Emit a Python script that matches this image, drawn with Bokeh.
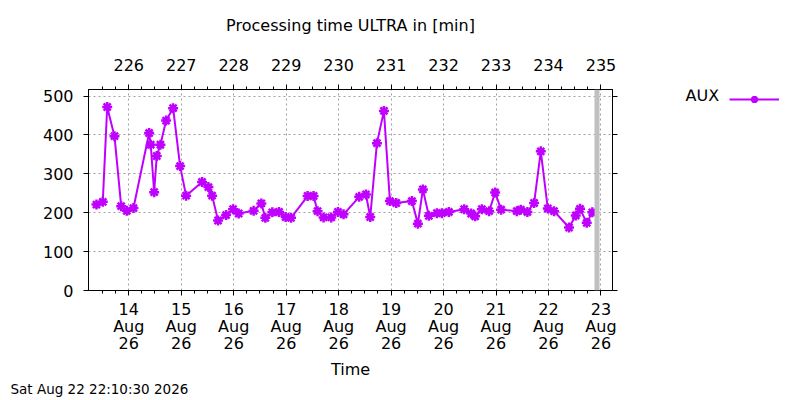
import pandas as pd
from bokeh.plotting import figure
from bokeh.layouts import row
from bokeh.models import (LinearAxis, FixedTicker, Range1d, Span, Legend,
                          LegendItem, Title, Label, CustomJSTickFormatter)
from bokeh.embed import file_html
from bokeh.resources import INLINE

# processing times (minutes) of the ULTRA runs
times = [
    "2026-08-13 09:14", "2026-08-13 12:07", "2026-08-13 14:08", "2026-08-13 17:28",
    "2026-08-13 20:32", "2026-08-13 23:05", "2026-08-14 02:09", "2026-08-14 09:19",
    "2026-08-14 10:03", "2026-08-14 11:37", "2026-08-14 12:48", "2026-08-14 14:29",
    "2026-08-14 17:05", "2026-08-14 20:17", "2026-08-14 23:29", "2026-08-15 02:14",
    "2026-08-15 09:32", "2026-08-15 12:25", "2026-08-15 14:07", "2026-08-15 16:51",
    "2026-08-15 20:31", "2026-08-15 23:43", "2026-08-16 02:16", "2026-08-16 09:07",
    "2026-08-16 12:38", "2026-08-16 14:28", "2026-08-16 17:40", "2026-08-16 20:44",
    "2026-08-16 23:45", "2026-08-17 02:13", "2026-08-17 09:48", "2026-08-17 12:32",
    "2026-08-17 14:22", "2026-08-17 17:07", "2026-08-17 20:38", "2026-08-17 23:41",
    "2026-08-18 02:15", "2026-08-18 09:25", "2026-08-18 12:29", "2026-08-18 14:27",
    "2026-08-18 17:31", "2026-08-18 20:43", "2026-08-18 23:27", "2026-08-19 02:20",
    "2026-08-19 09:30", "2026-08-19 12:15", "2026-08-19 14:32", "2026-08-19 17:17",
    "2026-08-19 20:56", "2026-08-19 23:13", "2026-08-20 02:25", "2026-08-20 09:25",
    "2026-08-20 12:37", "2026-08-20 14:26", "2026-08-20 17:30", "2026-08-20 20:50",
    "2026-08-20 23:35", "2026-08-21 02:19", "2026-08-21 09:29", "2026-08-21 11:19",
    "2026-08-21 14:20", "2026-08-21 17:24", "2026-08-21 20:28", "2026-08-21 23:40",
    "2026-08-22 02:32", "2026-08-22 09:23", "2026-08-22 12:28", "2026-08-22 14:25",
    "2026-08-22 17:29", "2026-08-22 20:02",
]
minutes = [
    221, 228, 472, 397, 217, 205, 212, 405, 375, 253,
    346, 375, 437, 469, 320, 244, 279, 266, 244, 180,
    194, 209, 198, 205, 224, 187, 201, 202, 189, 187,
    243, 243, 204, 188, 188, 202, 196, 241, 247, 189,
    379, 462, 230, 225, 230, 172, 260, 192, 199, 199,
    202, 209, 198, 191, 209, 204, 252, 208, 204, 208,
    202, 225, 358, 211, 204, 162, 193, 210, 174, 201,
]

series_name = "AUX"
now_stamp = "2026-08-22 22:10:30"
now_text = "Sat Aug 22 22:10:30 2026"
x_start = "2026-08-13 05:35"
x_end = "2026-08-23 05:16"
y_max = 517
y_ticks = [0, 100, 200, 300, 400, 500]
day_ticks = ["2026-08-14", "2026-08-15", "2026-08-16", "2026-08-17", "2026-08-18",
             "2026-08-19", "2026-08-20", "2026-08-21", "2026-08-22", "2026-08-23"]
date_labels = ["14\nAug\n26", "15\nAug\n26", "16\nAug\n26", "17\nAug\n26", "18\nAug\n26",
               "19\nAug\n26", "20\nAug\n26", "21\nAug\n26", "22\nAug\n26", "23\nAug\n26"]
doy_labels = ["226", "227", "228", "229", "230", "231", "232", "233", "234", "235"]


def ms(s):
    return pd.Timestamp(s).value // 10**6


day_ms = [ms(d) for d in day_ticks]
six_h = 6 * 3600 * 1000
minor_ms = list(range(day_ms[0] - 2 * six_h, ms(x_end), six_h))

FONT = "DejaVu Sans"
FS = "16px"
PURPLE = "#c000ff"

p = figure(
    x_axis_type="datetime",
    frame_width=524, frame_height=201,
    min_border_left=88, min_border_right=20, min_border_top=89, min_border_bottom=110,
    x_range=Range1d(ms(x_start), ms(x_end)),
    y_range=Range1d(0, y_max),
    output_backend="svg", toolbar_location=None,
)
p.outline_line_color = "black"
p.outline_line_alpha = 1
p.background_fill_color = "white"


def style_axis(ax, standoff=10):
    ax.axis_line_color = "black"
    ax.major_tick_line_color = "black"
    ax.minor_tick_line_color = "black"
    ax.major_tick_in = 0
    ax.major_tick_out = 5
    ax.minor_tick_in = 0
    ax.minor_tick_out = 3
    ax.major_label_text_font = FONT
    ax.major_label_text_font_size = FS
    ax.major_label_text_color = "black"
    ax.major_label_standoff = standoff
    ax.axis_label_text_font = FONT
    ax.axis_label_text_font_size = FS
    ax.axis_label_text_font_style = "normal"
    ax.axis_label_text_color = "black"


# bottom: dates
xb = p.xaxis[0]
xb.ticker = FixedTicker(ticks=day_ms, minor_ticks=minor_ms)
xb.formatter = CustomJSTickFormatter(
    args=dict(pos=day_ms, lab=date_labels),
    code="const i = pos.indexOf(tick); return i < 0 ? '' : lab[i];")
style_axis(xb, 4)
xb.major_label_text_line_height = 0.92
xb.axis_label = "Time"
xb.axis_label_standoff = 4

# top: day of year, with the chart title above it
xt = LinearAxis(ticker=FixedTicker(ticks=day_ms, minor_ticks=minor_ms))
xt.formatter = CustomJSTickFormatter(
    args=dict(pos=day_ms, lab=doy_labels),
    code="const i = pos.indexOf(tick); return i < 0 ? '' : lab[i];")
style_axis(xt, 14)
xt.axis_label = "Processing time ULTRA in [min]"
xt.axis_label_standoff = 21
p.add_layout(xt, "above")

# left / right
yl = p.yaxis[0]
yl.ticker = FixedTicker(ticks=y_ticks, minor_ticks=[])
style_axis(yl, 10)
yr = LinearAxis(ticker=FixedTicker(ticks=y_ticks, minor_ticks=[]))
style_axis(yr, 0)
yr.formatter = CustomJSTickFormatter(code="return '';")
p.add_layout(yr, "right")

p.xgrid.ticker = FixedTicker(ticks=day_ms)
p.ygrid.ticker = FixedTicker(ticks=y_ticks)
for g in (p.xgrid, p.ygrid):
    g.grid_line_color = "#a0a0a0"
    g.grid_line_dash = "2 3"
    g.grid_line_width = 1

# "now" marker
p.add_layout(Span(location=ms(now_stamp), dimension="height",
                  line_color="#c0c0c0", line_width=5))

line_style = dict(line_color=PURPLE, line_width=2)
mark_style = dict(marker="asterisk", size=10, line_color=PURPLE, line_width=2.5)

src = dict(t=pd.to_datetime(times), v=minutes)
p.line("t", "v", source=src, **line_style)
p.scatter("t", "v", source=src, **mark_style)

stamp = Title(text=now_text, align="left", offset=-78, standoff=-8,
              text_font=FONT, text_font_size="13.5px", text_font_style="normal",
              text_color="black")
p.add_layout(stamp, "below")

# key panel on the right (ranges are page pixels, y downwards); the key
# renderers reuse the series, which falls outside this panel's ranges
q = figure(width=800 - 632, height=400,
           x_range=Range1d(632, 799), y_range=Range1d(400, 88),
           min_border_left=0, min_border_top=88, min_border_right=1, min_border_bottom=0,
           x_axis_location=None, y_axis_location=None,
           output_backend="svg", toolbar_location=None)
q.outline_line_color = None
q.xgrid.visible = False
q.ygrid.visible = False
k_line = q.line("t", "v", source=src, **line_style)
k_pts = q.scatter("t", "v", source=src, **mark_style)

legend = Legend(items=[LegendItem(label="\u00a0", renderers=[k_line, k_pts])],
                location="top_right")
legend.glyph_width = 50
legend.glyph_height = 18
legend.label_standoff = 0
legend.label_text_font = FONT
legend.label_text_font_size = FS
legend.padding = 0
legend.margin = 0
legend.spacing = 0
legend.border_line_color = None
legend.background_fill_alpha = 0
q.add_layout(legend)

q.add_layout(Label(x=685, y=97, text=series_name, text_font=FONT, text_font_size=FS,
                   text_align="left", text_baseline="middle", text_color="black"))

layout = row(p, q)
open("out.html", "w").write(file_html(layout, INLINE))
